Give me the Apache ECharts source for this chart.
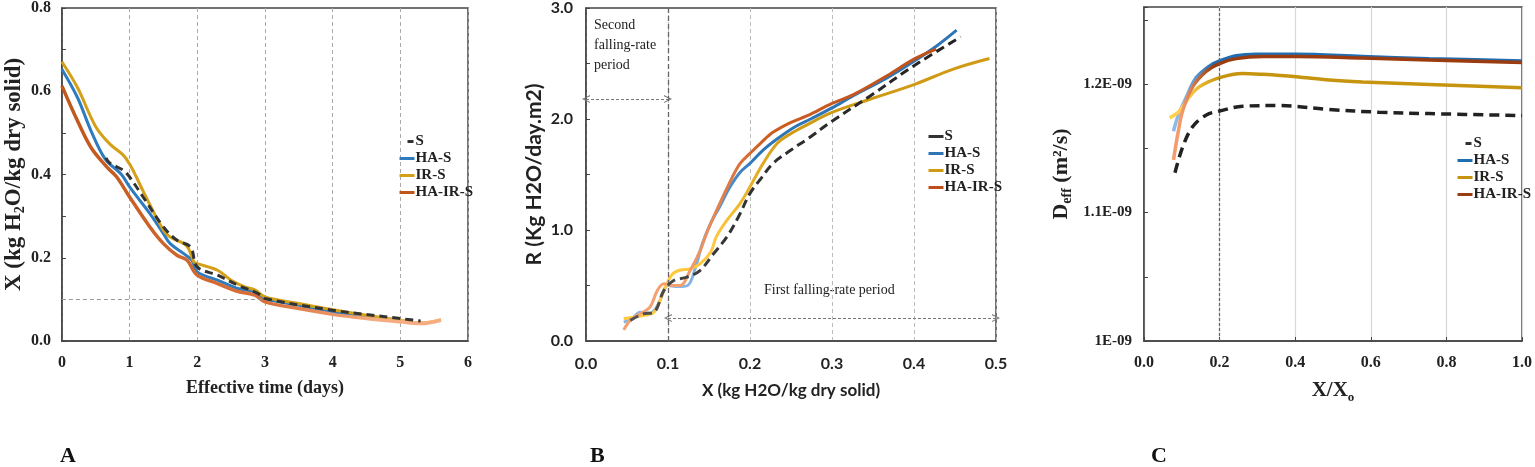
<!DOCTYPE html>
<html>
<head>
<meta charset="utf-8">
<script src="https://cdn.jsdelivr.net/npm/echarts@6/dist/echarts.min.js"></script>
<style>
html,body{margin:0;padding:0;background:#fff;}
#chart{width:1535px;height:467px;}
</style>
</head>
<body>
<div id="chart"></div>
<script>
// ---------- Panel A: moisture content vs effective time ----------
var A_S_t     = [0.65,0.71,0.91,1,1.2,1.5,1.7,1.9,2,2.3,2.6,2.9,3,4,5,5.3];
var A_S_X     = [0.44,0.427,0.41,0.394,0.346,0.274,0.242,0.226,0.178,0.158,0.134,0.114,0.102,0.074,0.054,0.048];
var A_HAS_t   = [0,0.23,0.43,0.64,0.88,1,1.3,1.5,1.6,1.8,1.92,2,2.3,2.6,2.85,3,3.5,4,4.5,5,5.3,5.6];
var A_HAS_X   = [0.653,0.585,0.505,0.437,0.40,0.37,0.306,0.258,0.234,0.21,0.194,0.166,0.146,0.126,0.118,0.102,0.086,0.07,0.059,0.05,0.043,0.051];
var A_IRS_t   = [0,0.23,0.5,0.71,0.91,1.0,1.1,1.2,1.5,1.6,1.8,1.87,1.95,2,2.3,2.5,2.7,2.85,3,3.5,3.9,4.5,5,5.3,5.6];
var A_IRS_X   = [0.671,0.609,0.515,0.473,0.446,0.425,0.394,0.36,0.266,0.25,0.234,0.222,0.19,0.186,0.17,0.146,0.13,0.123,0.106,0.09,0.078,0.062,0.05,0.043,0.051];
var A_HAIRS_t = [0,0.23,0.43,0.67,0.81,1,1.3,1.5,1.7,1.85,2,2.3,2.6,2.85,3,3.5,4,4.5,5,5.3,5.6];
var A_HAIRS_X = [0.613,0.529,0.465,0.417,0.394,0.346,0.274,0.234,0.206,0.194,0.158,0.138,0.119,0.11,0.094,0.078,0.064,0.054,0.046,0.042,0.05];
var A_xTicks  = [0,1,2,3,4,5,6];
var A_refX    = 0.1;   // horizontal reference level
var A_refT    = 3;     // reference line end (days)

// ---------- Panel B: drying rate vs moisture content ----------
var B_S_X     = [0.054,0.07,0.083,0.095,0.107,0.123,0.139,0.156,0.172,0.186,0.2,0.214,0.228,0.25,0.27,0.3,0.347,0.4,0.457];
var B_S_R     = [0.186,0.245,0.26,0.455,0.545,0.575,0.635,0.79,0.94,1.12,1.33,1.47,1.60,1.72,1.82,1.98,2.21,2.48,2.74];
var B_HAS_X   = [0.046,0.056,0.066,0.078,0.088,0.1,0.112,0.124,0.133,0.142,0.152,0.163,0.175,0.188,0.2,0.216,0.233,0.255,0.274,0.3,0.326,0.367,0.4,0.428,0.452];
var B_HAS_R   = [0.17,0.2,0.26,0.25,0.33,0.5,0.49,0.5,0.65,0.88,1.06,1.21,1.38,1.52,1.60,1.72,1.82,1.93,2.00,2.10,2.21,2.37,2.52,2.66,2.80];
var B_IRS_X   = [0.046,0.058,0.070,0.083,0.095,0.105,0.115,0.127,0.139,0.152,0.159,0.171,0.188,0.2,0.216,0.233,0.25,0.27,0.3,0.347,0.4,0.448,0.492];
var B_IRS_R   = [0.20,0.215,0.23,0.26,0.455,0.60,0.64,0.65,0.695,0.80,0.94,1.08,1.24,1.39,1.60,1.78,1.87,1.95,2.06,2.18,2.31,2.45,2.545];
var B_HAIRS_X = [0.046,0.054,0.066,0.078,0.087,0.095,0.105,0.115,0.127,0.139,0.147,0.157,0.167,0.178,0.188,0.2,0.214,0.228,0.25,0.27,0.3,0.326,0.367,0.4,0.427];
var B_HAIRS_R = [0.10,0.186,0.245,0.305,0.455,0.515,0.50,0.50,0.635,0.81,0.97,1.14,1.30,1.47,1.60,1.69,1.79,1.88,1.97,2.03,2.14,2.22,2.39,2.54,2.63];
var B_secondPeriod = [0, 0.1];   // X range of second falling-rate period
var B_firstPeriod  = [0.1, 0.5]; // X range of first falling-rate period
var B_arrowR       = [2.18, 0.207];

// ---------- Panel C: effective diffusivity (units of 1E-09 m2/s) ----------
var C_S_X     = [0.082,0.103,0.129,0.165,0.2,0.261,0.358,0.49,0.622,0.754,1.0];
var C_S_D     = [1.131,1.1516,1.167,1.176,1.179,1.1828,1.1833,1.1802,1.1781,1.177,1.1755];
var C_HAS_X   = [0.078,0.09,0.112,0.138,0.173,0.2,0.244,0.296,0.402,0.578,0.754,1.0];
var C_HAS_D   = [1.1633,1.175,1.19,1.205,1.214,1.218,1.222,1.2232,1.2232,1.2214,1.2198,1.218];
var C_IRS_X   = [0.068,0.094,0.12,0.147,0.2,0.261,0.314,0.402,0.49,0.578,0.754,1.0];
var C_IRS_D   = [1.1737,1.179,1.19,1.198,1.205,1.2083,1.2076,1.2057,1.2031,1.2016,1.1997,1.1971];
var C_HAIRS_X = [0.078,0.09,0.103,0.129,0.165,0.2,0.244,0.314,0.402,0.578,0.754,1.0];
var C_HAIRS_D = [1.141,1.162,1.18,1.198,1.21,1.216,1.2198,1.2214,1.2214,1.2203,1.2188,1.2167];
var C_yLabels = {"1.00":"1E-09","1.10":"1.1E-09","1.20":"1.2E-09"};
var C_refX    = 0.2;

var names = ['S','HA-S','IR-S','HA-IR-S'];

function zip(xs, ys){ return xs.map(function(x,i){ return [x, ys[i]]; }); }
function grad(stops){ return {type:'linear',x:0,y:0,x2:1,y2:0,colorStops:stops.map(function(s){return {offset:s[0],color:s[1]};})}; }

var SERIF = '"Liberation Serif","Times New Roman",serif';
var SANS = 'Lato,"Liberation Sans",sans-serif';
var AX = '#444';

var colA = {blue:'#2E7BC0', gold:'#D4A017', brown:'#C0561B', peach:'#F5AC80'};
var colB = {blue:'#2E75B6', gold:'#D09A14', brown:'#BE4F19', lblue:'#85B6E6', lgold:'#FFC83D', lbrown:'#F4A070'};
var colC = {blue:'#1F6DB2', gold:'#C6940E', brown:'#9A3C10', lblue:'#8DBAE6', lgold:'#FFD04A', lbrown:'#F49A6C'};

function lineS(name, data, xi, color, width, dash, z){
  return {name:name, type:'line', xAxisIndex:xi, yAxisIndex:xi, data:data, smooth:0.35,
    showSymbol:false, symbol:'none', z:z||2,
    lineStyle:{color:color, width:width, type:dash||'solid'}, emphasis:{disabled:true}};
}

function legendFor(left, top, cols, shortDash){
  var hide = {opacity:0};
  return {left:left, top:top, orient:'vertical', itemWidth:15, itemHeight:12, itemGap:2,
    textStyle:{fontFamily:SERIF, fontWeight:'bold', fontSize:15, lineHeight:15, color:'#222', padding:[0,0,0,-4]},
    data:[
      {name:'S', itemStyle:hide, lineStyle:{color:'#333', width:3, type: shortDash ? [0,8,6,10] : 'solid'}},
      {name:'HA-S', itemStyle:hide, lineStyle:{color:cols.blue, width:3, type:'solid'}},
      {name:'IR-S', itemStyle:hide, lineStyle:{color:cols.gold, width:3, type:'solid'}},
      {name:'HA-IR-S', itemStyle:hide, lineStyle:{color:cols.brown, width:3, type:'solid'}}
    ], selectedMode:false};
}

var tickLbl = function(f){ return {fontFamily:f===SANS?SANS:SERIF, fontWeight:'bold', fontSize:15, color:'#222'}; };

var option = {
  animation:false,
  backgroundColor:'#fff',
  grid:[
    {left:54, top:7, width:414, height:334, show:true, borderColor:AX, borderWidth:1.5},
    {left:586, top:7, width:410, height:334, show:true, borderColor:AX, borderWidth:1.5},
    {left:1144, top:7, width:379, height:334, show:true, borderColor:AX, borderWidth:1.5}
  ],
  legend:[
    legendFor(393, 129, colA, true),
    legendFor(922, 124, colB, false),
    legendFor(1451, 131, colC, true)
  ],
  xAxis:[
    {gridIndex:0, type:'value', min:A_xTicks[0], max:A_xTicks[A_xTicks.length-1], interval:1,
      axisLine:{lineStyle:{color:AX,width:1.5}}, axisTick:{show:false},
      axisLabel:Object.assign(tickLbl(SERIF),{margin:14, fontSize:16}),
      splitLine:{show:true, lineStyle:{color:'#aaa', type:[4,3], width:1}},
      name:'Effective time (days)', nameLocation:'middle', nameGap:38,
      nameTextStyle:{fontFamily:SERIF, fontWeight:'bold', fontSize:18, color:'#222'}},
    {gridIndex:1, type:'value', min:0, max:0.5, interval:0.1,
      axisLine:{lineStyle:{color:AX,width:1.5}}, axisTick:{show:false},
      axisLabel:Object.assign(tickLbl(SANS),{margin:15, fontSize:16, formatter:function(v){return v.toFixed(1);}}),
      splitLine:{show:true, lineStyle:{color:'#bbb', type:[4,3], width:1}},
      name:'X (kg H2O/kg dry solid)', nameLocation:'middle', nameGap:41,
      nameTextStyle:{fontFamily:SANS, fontWeight:'bold', fontSize:17, color:'#222'}},
    {gridIndex:2, type:'value', min:0, max:1, interval:0.2,
      axisLine:{lineStyle:{color:AX,width:1.5}}, axisTick:{show:true, inside:true, length:4, lineStyle:{color:AX}},
      axisLabel:Object.assign(tickLbl(SERIF),{margin:14, fontSize:16, formatter:function(v){return v.toFixed(1);}}),
      splitLine:{show:true, lineStyle:{color:'#d8d8d8', width:1.2}},
      name:'X/X{sub|o}', nameLocation:'middle', nameGap:37,
      nameTextStyle:{fontFamily:SERIF, fontWeight:'bold', fontSize:21, color:'#222', lineHeight:26,
        rich:{sub:{fontFamily:SERIF, fontWeight:'bold', fontSize:13, color:'#222', verticalAlign:'bottom', lineHeight:26, padding:[10,0,0,0]}}}}
  ],
  yAxis:[
    {gridIndex:0, type:'value', min:0, max:0.8, interval:0.1,
      axisLine:{lineStyle:{color:AX,width:1.5}}, axisTick:{show:true, inside:true, length:4, lineStyle:{color:AX}},
      axisLabel:Object.assign(tickLbl(SERIF),{margin:11, fontSize:16, formatter:function(v){return (Math.round(v*10)%2===0)?v.toFixed(1):'';}}),
      splitLine:{show:false},
      name:'X (kg H{sub|2}O/kg dry solid)', nameLocation:'middle', nameGap:32,
      nameTextStyle:{fontFamily:SERIF, fontWeight:'bold', fontSize:23, color:'#222', lineHeight:26,
        rich:{sub:{fontFamily:SERIF, fontWeight:'bold', fontSize:14, color:'#222', verticalAlign:'bottom', lineHeight:26, padding:[10,0,0,0]}}}},
    {gridIndex:1, type:'value', min:0, max:3, interval:0.5,
      axisLine:{lineStyle:{color:AX,width:1.5}}, axisTick:{show:true, inside:true, length:4, lineStyle:{color:AX}},
      axisLabel:Object.assign(tickLbl(SANS),{margin:13, fontSize:16, formatter:function(v){return (Math.round(v*2)%2===0)?v.toFixed(1):'';}}),
      splitLine:{show:false},
      name:'R (Kg H2O/day.m2)', nameLocation:'middle', nameGap:41,
      nameTextStyle:{fontFamily:SANS, fontWeight:'bold', fontSize:21, color:'#222'}},
    {gridIndex:2, type:'value', min:1.0, max:1.26, interval:0.05,
      axisLine:{lineStyle:{color:AX,width:1.5}}, axisTick:{show:true, inside:true, length:4, lineStyle:{color:AX}},
      axisLabel:Object.assign(tickLbl(SERIF),{margin:12, fontSize:15, formatter:function(v){var k=v.toFixed(2); return C_yLabels[k]||'';}}),
      splitLine:{show:false},
      name:'D{sub|eff} (m²/s)', nameLocation:'middle', nameGap:70,
      nameTextStyle:{fontFamily:SERIF, fontWeight:'bold', fontSize:22, color:'#222', lineHeight:26,
        rich:{sub:{fontFamily:SERIF, fontWeight:'bold', fontSize:14, color:'#222', verticalAlign:'bottom', lineHeight:26, padding:[10,0,0,0]}}}}
  ],
  series:[
    // Panel A
    (function(){ var s=lineS('HA-S', zip(A_HAS_t,A_HAS_X), 0, grad([[0,colA.blue],[0.8,colA.blue],[0.95,colA.peach],[1,colA.peach]]), 3);
       s.markLine={silent:true, symbol:'none', label:{show:false}, lineStyle:{color:'#999', type:[4,3], width:1.2},
         data:[[{coord:[0,A_refX]},{coord:[A_refT,A_refX]}]]}; return s; })(),
    lineS('IR-S', zip(A_IRS_t,A_IRS_X), 0, grad([[0,colA.gold],[0.8,colA.gold],[0.95,'#F7C36A'],[1,'#F7C36A']]), 3),
    lineS('HA-IR-S', zip(A_HAIRS_t,A_HAIRS_X), 0, grad([[0,colA.brown],[0.55,'#D9713A'],[0.82,colA.peach],[1,colA.peach]]), 3.5),
    lineS('S', zip(A_S_t,A_S_X), 0, '#333', 3, [8,5], 5),
    // Panel B
    (function(){ var s=lineS('HA-S', zip(B_HAS_X,B_HAS_R), 1, grad([[0,colB.lblue],[0.2,colB.lblue],[0.4,colB.blue],[1,colB.blue]]), 3);
       s.markLine={silent:true, label:{show:false},
         symbol:['path://M5,0L10,10L8.6,10L5,2.8L1.4,10L0,10Z','path://M5,0L10,10L8.6,10L5,2.8L1.4,10L0,10Z'], symbolSize:[8,8],
         lineStyle:{color:'#777', type:[3,2], width:1.2},
         data:[
           [{coord:[B_secondPeriod[0],B_arrowR[0]]},{coord:[B_secondPeriod[1],B_arrowR[0]]}],
           [{coord:[B_firstPeriod[0],B_arrowR[1]]},{coord:[B_firstPeriod[1],B_arrowR[1]]}]
         ]}; return s; })(),
    (function(){ var s=lineS('IR-S', zip(B_IRS_X,B_IRS_R), 1, grad([[0,colB.lgold],[0.25,colB.lgold],[0.45,colB.gold],[1,colB.gold]]), 3);
       s.markLine={silent:true, symbol:'none', label:{show:false}, lineStyle:{color:'#666', type:[5,3], width:1.3},
         data:[{xAxis:0.1}]}; return s; })(),
    lineS('HA-IR-S', zip(B_HAIRS_X,B_HAIRS_R), 1, grad([[0,colB.lbrown],[0.2,colB.lbrown],[0.45,'#CD5E22'],[1,colB.brown]]), 3),
    lineS('S', zip(B_S_X,B_S_R), 1, grad([[0,'#555'],[0.3,'#333'],[1,'#222']]), 3, [9,5], 5),
    // Panel C
    (function(){ var s=lineS('HA-S', zip(C_HAS_X,C_HAS_D), 2, grad([[0,colC.lblue],[0.03,colC.lblue],[0.12,colC.blue],[1,colC.blue]]), 3.5);
       s.markLine={silent:true, symbol:'none', label:{show:false}, lineStyle:{color:'#666', type:[3,2], width:1.2},
         data:[{xAxis:C_refX}]}; return s; })(),
    lineS('IR-S', zip(C_IRS_X,C_IRS_D), 2, grad([[0,colC.lgold],[0.05,colC.lgold],[0.15,colC.gold],[1,colC.gold]]), 3.5),
    lineS('HA-IR-S', zip(C_HAIRS_X,C_HAIRS_D), 2, grad([[0,colC.lbrown],[0.03,colC.lbrown],[0.12,colC.brown],[1,colC.brown]]), 3.5),
    lineS('S', zip(C_S_X,C_S_D), 2, '#222', 3.5, [10,6], 5)
  ],
  graphic:[
    {type:'text', left:594, top:15, style:{text:'Second\nfalling-rate\nperiod', fontFamily:SERIF, fontSize:14, lineHeight:20, fill:'#222'}},
    {type:'text', left:764, top:283, style:{text:'First falling-rate period', fontFamily:SERIF, fontSize:14, fill:'#222'}},
    {type:'text', left:60, top:445, style:{text:'A', fontFamily:SERIF, fontWeight:'bold', fontSize:22, fill:'#111'}},
    {type:'text', left:590, top:445, style:{text:'B', fontFamily:SERIF, fontWeight:'bold', fontSize:22, fill:'#111'}},
    {type:'text', left:1151, top:445, style:{text:'C', fontFamily:SERIF, fontWeight:'bold', fontSize:22, fill:'#111'}}
  ]
};

var chart = echarts.init(document.getElementById('chart'), null, {renderer:'canvas'});
chart.setOption(option);
</script>
</body>
</html>
